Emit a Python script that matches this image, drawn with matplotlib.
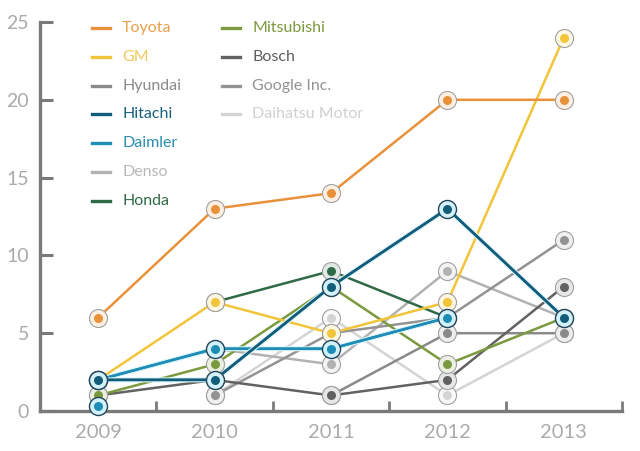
import numpy as np
import matplotlib
matplotlib.use("Agg")
import matplotlib.pyplot as plt
import matplotlib.patheffects as pe
from matplotlib.colors import to_rgb

years = [2009, 2010, 2011, 2012, 2013]
nan = np.nan

toyota     = [6, 13, 14, 20, 20]
gm         = [2, 7, 5, 7, 24]
hyundai    = [nan, nan, 1, 5, 5]
hitachi    = [2, 2, 8, 13, 6]
daimler    = [2, 4, 4, 6, nan]
denso      = [nan, 4, 3, 9, 6]
honda      = [nan, 7, 9, 6, nan]
mitsubishi = [1, 3, 8, 3, 6]
bosch      = [1, 2, 1, 2, 8]
google     = [nan, 1, 5, 6, 11]
daihatsu   = [nan, 1, 6, 1, 5]
# an unconnected Daimler point shown at 2009
daimler_lone = (2009, 0.3)

names = ["Toyota", "GM", "Hyundai", "Hitachi", "Daimler", "Denso", "Honda",
         "Mitsubishi", "Bosch", "Google Inc.", "Daihatsu Motor"]
values = {"Toyota": toyota, "GM": gm, "Hyundai": hyundai, "Hitachi": hitachi,
          "Daimler": daimler, "Denso": denso, "Honda": honda,
          "Mitsubishi": mitsubishi, "Bosch": bosch, "Google Inc.": google,
          "Daihatsu Motor": daihatsu}
colors = {"Toyota": "#E8913A", "GM": "#F2C43A", "Hyundai": "#8A8A8A",
          "Hitachi": "#135C7A", "Daimler": "#1E8DB6", "Denso": "#B2B2B2",
          "Honda": "#2F6A47", "Mitsubishi": "#7B9A3E", "Bosch": "#626262",
          "Google Inc.": "#939393", "Daihatsu Motor": "#D4D4D4"}
text_colors = dict(colors)
text_colors.update({"Toyota": "#E9A04E", "GM": "#F2C85E", "Hitachi": "#17607E",
                    "Daimler": "#2A8DB0", "Bosch": "#5E5E5E",
                    "Daihatsu Motor": "#D0D0D0", "Denso": "#B8B8B8"})
draw_order = ["Daihatsu Motor", "Denso", "Google Inc.", "Hyundai", "Bosch",
              "Mitsubishi", "Honda", "GM", "Daimler", "Hitachi", "Toyota"]
blue_series = {"Hitachi", "Daimler"}

def tint(c, f):
    r = np.array(to_rgb(c))
    return tuple(r + (1 - r) * f)

plt.rcParams['font.family'] = ['Lato', 'DejaVu Sans']

fig = plt.figure(figsize=(6.4, 4.51), dpi=100)
ax = fig.add_axes([40/640, 40/451, 582/640, 389/451])
ax.set_xlim(2008.5, 2013.5)
ax.set_ylim(0, 25)

axis_gray = "#7A7A7A"
label_gray = "#ABABAB"
for s in ["top", "right"]:
    ax.spines[s].set_visible(False)
for s in ["left", "bottom"]:
    ax.spines[s].set_color(axis_gray)
    ax.spines[s].set_linewidth(2.4)

ax.set_yticks([0, 5, 10, 15, 20, 25])
ax.set_yticklabels(["0", "5", "10", "15", "20", "25"])
ax.tick_params(axis='y', direction='in', length=9, width=2.2, color=axis_gray,
               labelcolor=label_gray, labelsize=14, pad=8)
ax.set_xticks([2009.5, 2010.5, 2011.5, 2012.5, 2013.5])
ax.set_xticklabels([])
ax.tick_params(axis='x', direction='in', length=7, width=2, color=axis_gray)
for yr in years:
    ax.text(yr, -1.35, str(yr), ha='center', va='center', fontsize=14.5,
            color=label_gray)

x = np.array(years, dtype=float)
for n in draw_order:
    y = np.array(values[n], dtype=float)
    kw = {}
    if n in blue_series:
        kw['path_effects'] = [pe.withStroke(linewidth=3.6, foreground="#D6F3FA"), pe.Normal()]
    ax.plot(x, y, color=colors[n], lw=1.8, zorder=2, solid_capstyle='round', **kw)

def marker(xv, yv, n, z):
    c = colors[n]
    if n in blue_series:
        face, edge, lw = "#D3F1FA", "#24465A", 1.0
    else:
        face, edge, lw = tint(c, 0.85), "#A0A0A0", 0.8
    ax.plot(xv, yv, 'o', ms=13, mfc=face, mec=edge, mew=lw, zorder=z, clip_on=False)
    ax.plot(xv, yv, 'o', ms=6.5, mfc=c, mec=c, mew=0, zorder=z + 0.1, clip_on=False)

z = 3
for n in draw_order:
    y = np.array(values[n], dtype=float)
    m = ~np.isnan(y)
    marker(x[m], y[m], n, z)
    z += 0.2
marker([daimler_lone[0]], [daimler_lone[1]], "Daimler", z)

# legend
col_x = [92, 222]
row_y0, row_dy = 28, 28.8
for i, n in enumerate(names):
    col = 0 if i < 7 else 1
    row = i if i < 7 else i - 7
    yy = 1 - (row_y0 + row * row_dy) / 451
    x0 = col_x[col] / 640
    fig.add_artist(plt.Line2D([x0, x0 + 18/640], [yy, yy], color=colors[n],
                              lw=2.4, transform=fig.transFigure))
    fig.text(x0 + 30/640, yy, n, color=text_colors[n], fontsize=11.5,
             va='center', ha='left')

fig.savefig("out.png", dpi=100)
